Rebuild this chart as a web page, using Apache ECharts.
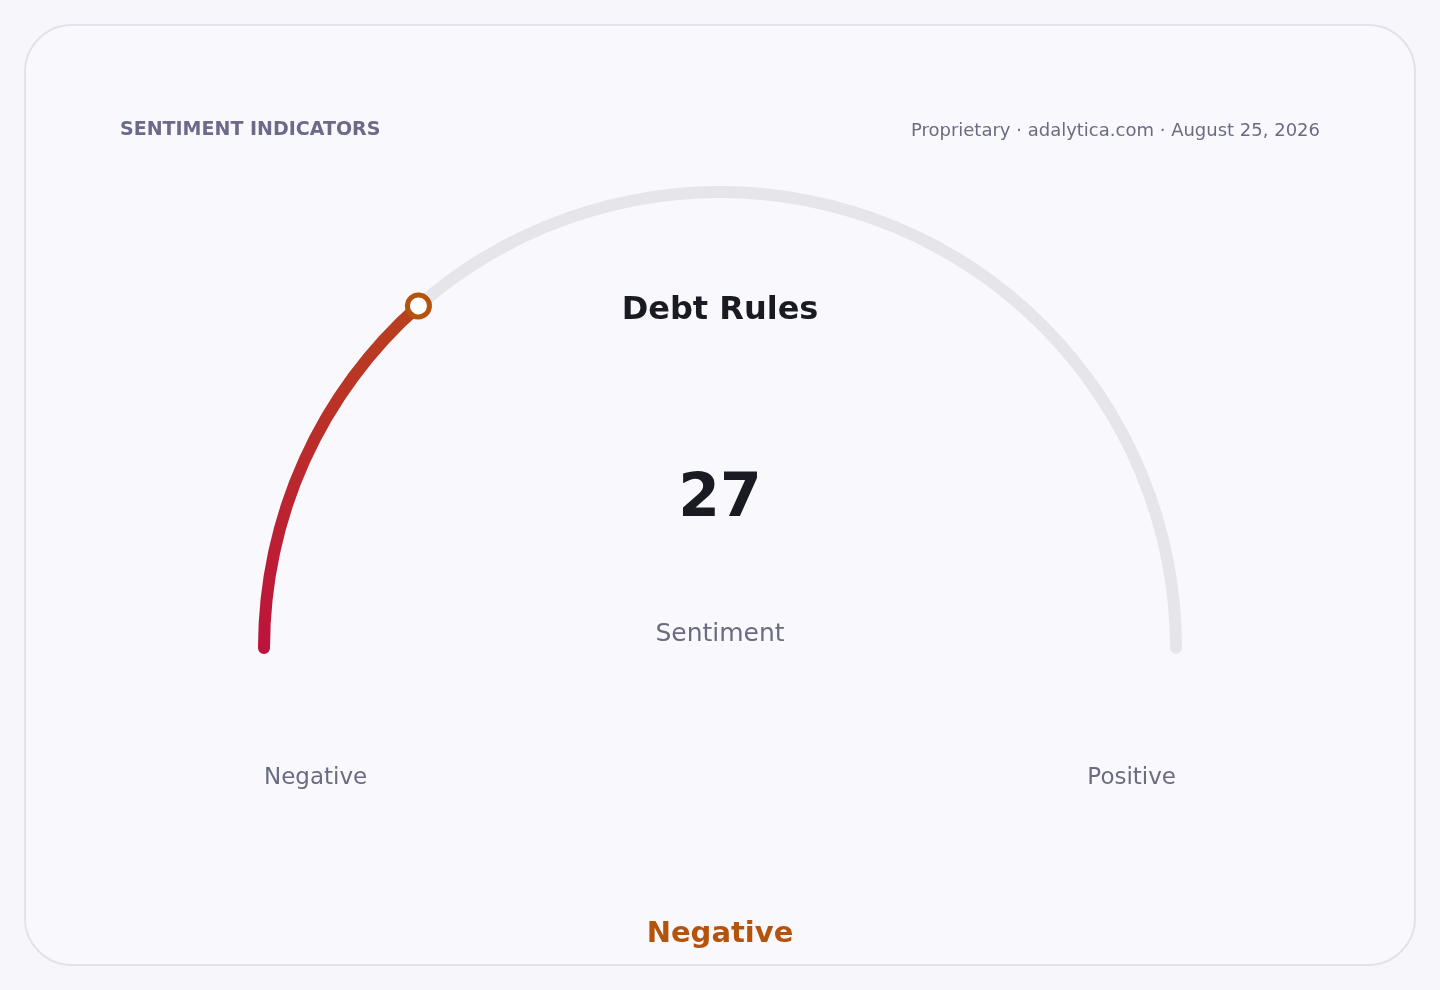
<!DOCTYPE html>
<html>
<head>
<meta charset="utf-8">
<script src="https://cdn.jsdelivr.net/npm/echarts@6/dist/echarts.min.js"></script>
<style>
  html, body { margin: 0; padding: 0; background: #f7f7fb; width: 1440px; height: 990px; overflow: hidden; }
  #card { position: absolute; left: 24px; top: 24px; width: 1388px; height: 938px; border: 2px solid #e2e2ed; border-radius: 48px; background: #f9f9fd; }
  #chart { position: absolute; left: 0; top: 0; width: 1440px; height: 990px; }
</style>
</head>
<body>
<div id="card"></div>
<div id="chart"></div>
<script>
const indicatorName = 'Debt Rules';
const sentimentValue = [27];
const scaleMin = 0;
const scaleMax = 100;
const endLabels = ['Negative', 'Positive'];
const verdict = 'Negative';
const headerLeft = 'SENTIMENT INDICATORS';
const headerRight = 'Proprietary · adalytica.com · August 25, 2026';
const metricLabel = 'Sentiment';

const FONT = '"DejaVu Sans", sans-serif';
const chart = echarts.init(document.getElementById('chart'), null, { renderer: 'canvas' });

const gaugeBase = {
  type: 'gauge',
  center: [720, 648],
  radius: 462,
  startAngle: 180,
  endAngle: 0,
  min: scaleMin,
  max: scaleMax,
  splitLine: { show: false },
  axisTick: { show: false },
  axisLabel: { show: false },
  anchor: { show: false }
};

const option = {
  backgroundColor: 'transparent',
  animation: false,
  graphic: [
    { type: 'text', x: 120, y: 130, style: { text: headerLeft, fontFamily: FONT, fontSize: 19, fontWeight: 'bold', fill: '#6b6a89', textVerticalAlign: 'middle', textAlign: 'left' } },
    { type: 'text', x: 1320, y: 131, style: { text: headerRight, fontFamily: FONT, fontSize: 18, fill: '#6b6b82', textVerticalAlign: 'middle', textAlign: 'right' } },
    { type: 'text', x: 264, y: 778, style: { text: endLabels[0], fontFamily: FONT, fontSize: 23, fill: '#6b6b82', textVerticalAlign: 'middle', textAlign: 'left' } },
    { type: 'text', x: 1176, y: 778, style: { text: endLabels[1], fontFamily: FONT, fontSize: 23, fill: '#6b6b82', textVerticalAlign: 'middle', textAlign: 'right' } },
    { type: 'text', x: 720, y: 634, style: { text: metricLabel, fontFamily: FONT, fontSize: 25, fill: '#6b6b82', textVerticalAlign: 'middle', textAlign: 'center' } },
    { type: 'text', x: 720, y: 934, style: { text: verdict, fontFamily: FONT, fontSize: 29, fontWeight: 'bold', fill: '#b4530b', textVerticalAlign: 'middle', textAlign: 'center' } }
  ],
  series: [
    Object.assign({}, gaugeBase, {
      z: 2,
      axisLine: { roundCap: true, lineStyle: { width: 12, color: [[1, '#e5e5ea']] } },
      progress: {
        show: true, roundCap: true, width: 12,
        itemStyle: {
          color: new echarts.graphic.LinearGradient(0, 1, 1, 0, [
            { offset: 0, color: '#be123c' },
            { offset: 1, color: '#b8421c' }
          ])
        }
      },
      pointer: { show: false },
      title: {
        show: true,
        offsetCenter: [0, -337],
        fontFamily: FONT, fontSize: 32, fontWeight: 'bold', color: '#1a1a22'
      },
      detail: {
        show: true,
        offsetCenter: [0, -148],
        fontFamily: FONT, fontSize: 60, fontWeight: 'bold', color: '#1a1a22',
        formatter: '{value}'
      },
      data: [{ value: sentimentValue[0], name: indicatorName }]
    }),
    Object.assign({}, gaugeBase, {
      z: 5,
      axisLine: { show: false },
      progress: { show: false },
      pointer: {
        show: true,
        icon: 'circle',
        length: 22,
        width: 22,
        offsetCenter: [0, -445],
        itemStyle: { color: '#ffffff', borderColor: '#b4530b', borderWidth: 5 }
      },
      title: { show: false },
      detail: { show: false },
      data: [{ value: sentimentValue[0], name: indicatorName }]
    })
  ]
};
chart.setOption(option);
</script>
</body>
</html>
